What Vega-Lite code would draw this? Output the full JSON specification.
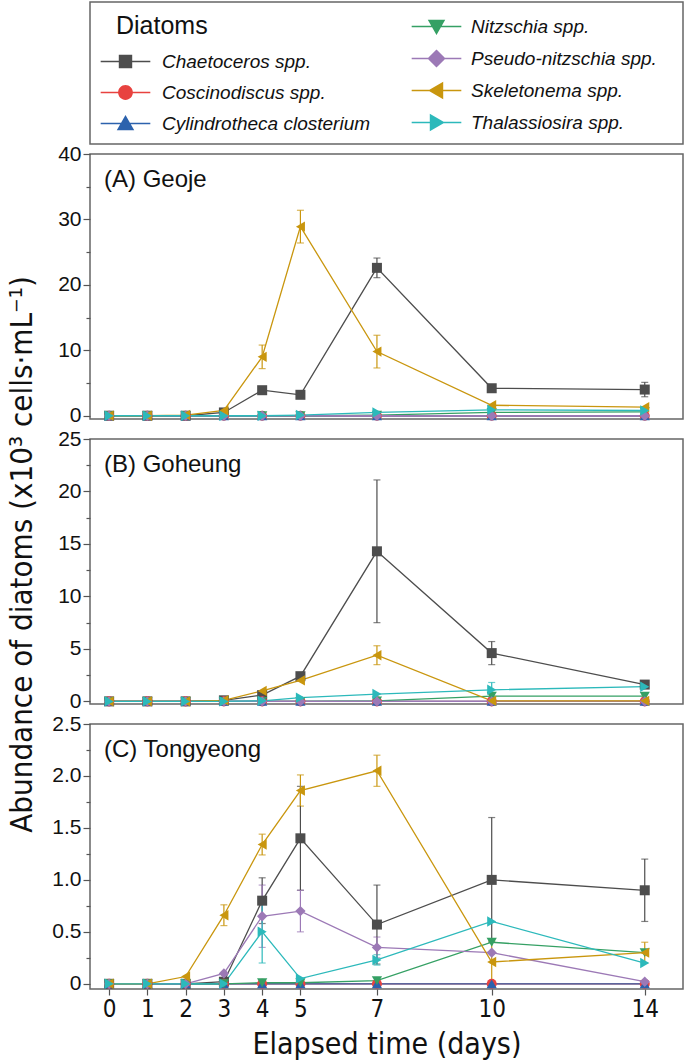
{
  "$schema": "https://vega.github.io/schema/vega-lite/v6.json",
  "padding": {"left": 5, "top": 1, "right": 1, "bottom": 1},
  "background": "white",
  "config": {
    "view": {"stroke": "#666666", "strokeWidth": 1.5},
    "font": "Liberation Sans",
    "axis": {"domain": false, "grid": false, "tickColor": "#555555", "tickWidth": 1.2, "labelColor": "#111111", "titleColor": "#111111", "labelFont": "Liberation Sans", "titleFont": "Liberation Sans Narrow, DejaVu Sans Condensed, Liberation Sans", "titleFontWeight": "normal"},
    "title": {"font": "Liberation Sans", "fontWeight": "normal", "fontSize": 24, "anchor": "start", "color": "#111111", "frame": "group", "baseline": "alphabetic"}
  },
  "datasets": {
    "d": [
      {"site":"A","sp":"Chaetoceros spp.","day":0,"v":0},{"site":"A","sp":"Chaetoceros spp.","day":1,"v":0},{"site":"A","sp":"Chaetoceros spp.","day":2,"v":0},{"site":"A","sp":"Chaetoceros spp.","day":3,"v":0.5},{"site":"A","sp":"Chaetoceros spp.","day":4,"v":3.9},{"site":"A","sp":"Chaetoceros spp.","day":5,"v":3.2},{"site":"A","sp":"Chaetoceros spp.","day":7,"v":22.6,"e":1.5},{"site":"A","sp":"Chaetoceros spp.","day":10,"v":4.2},{"site":"A","sp":"Chaetoceros spp.","day":14,"v":4.0,"e":1.1},
      {"site":"A","sp":"Coscinodiscus spp.","day":0,"v":0},{"site":"A","sp":"Coscinodiscus spp.","day":1,"v":0},{"site":"A","sp":"Coscinodiscus spp.","day":2,"v":0},{"site":"A","sp":"Coscinodiscus spp.","day":3,"v":0},{"site":"A","sp":"Coscinodiscus spp.","day":4,"v":0},{"site":"A","sp":"Coscinodiscus spp.","day":5,"v":0},{"site":"A","sp":"Coscinodiscus spp.","day":7,"v":0},{"site":"A","sp":"Coscinodiscus spp.","day":10,"v":0},{"site":"A","sp":"Coscinodiscus spp.","day":14,"v":0},
      {"site":"A","sp":"Cylindrotheca closterium","day":0,"v":0},{"site":"A","sp":"Cylindrotheca closterium","day":1,"v":0},{"site":"A","sp":"Cylindrotheca closterium","day":2,"v":0},{"site":"A","sp":"Cylindrotheca closterium","day":3,"v":0},{"site":"A","sp":"Cylindrotheca closterium","day":4,"v":0},{"site":"A","sp":"Cylindrotheca closterium","day":5,"v":0},{"site":"A","sp":"Cylindrotheca closterium","day":7,"v":0},{"site":"A","sp":"Cylindrotheca closterium","day":10,"v":0},{"site":"A","sp":"Cylindrotheca closterium","day":14,"v":0},
      {"site":"A","sp":"Nitzschia spp.","day":0,"v":0},{"site":"A","sp":"Nitzschia spp.","day":1,"v":0},{"site":"A","sp":"Nitzschia spp.","day":2,"v":0},{"site":"A","sp":"Nitzschia spp.","day":3,"v":0},{"site":"A","sp":"Nitzschia spp.","day":4,"v":0},{"site":"A","sp":"Nitzschia spp.","day":5,"v":0},{"site":"A","sp":"Nitzschia spp.","day":7,"v":0.1},{"site":"A","sp":"Nitzschia spp.","day":10,"v":0.5},{"site":"A","sp":"Nitzschia spp.","day":14,"v":0.6},
      {"site":"A","sp":"Pseudo-nitzschia spp.","day":0,"v":0},{"site":"A","sp":"Pseudo-nitzschia spp.","day":1,"v":0},{"site":"A","sp":"Pseudo-nitzschia spp.","day":2,"v":0},{"site":"A","sp":"Pseudo-nitzschia spp.","day":3,"v":0},{"site":"A","sp":"Pseudo-nitzschia spp.","day":4,"v":0},{"site":"A","sp":"Pseudo-nitzschia spp.","day":5,"v":0},{"site":"A","sp":"Pseudo-nitzschia spp.","day":7,"v":0},{"site":"A","sp":"Pseudo-nitzschia spp.","day":10,"v":0},{"site":"A","sp":"Pseudo-nitzschia spp.","day":14,"v":0},
      {"site":"A","sp":"Skeletonema spp.","day":0,"v":0},{"site":"A","sp":"Skeletonema spp.","day":1,"v":0},{"site":"A","sp":"Skeletonema spp.","day":2,"v":0.1},{"site":"A","sp":"Skeletonema spp.","day":3,"v":0.8},{"site":"A","sp":"Skeletonema spp.","day":4,"v":9.0,"e":1.8},{"site":"A","sp":"Skeletonema spp.","day":5,"v":28.9,"e":2.5},{"site":"A","sp":"Skeletonema spp.","day":7,"v":9.8,"e":2.5},{"site":"A","sp":"Skeletonema spp.","day":10,"v":1.6},{"site":"A","sp":"Skeletonema spp.","day":14,"v":1.3},
      {"site":"A","sp":"Thalassiosira spp.","day":0,"v":0},{"site":"A","sp":"Thalassiosira spp.","day":1,"v":0},{"site":"A","sp":"Thalassiosira spp.","day":2,"v":0},{"site":"A","sp":"Thalassiosira spp.","day":3,"v":0},{"site":"A","sp":"Thalassiosira spp.","day":4,"v":0},{"site":"A","sp":"Thalassiosira spp.","day":5,"v":0.1},{"site":"A","sp":"Thalassiosira spp.","day":7,"v":0.5},{"site":"A","sp":"Thalassiosira spp.","day":10,"v":0.9},{"site":"A","sp":"Thalassiosira spp.","day":14,"v":0.8},
      {"site":"B","sp":"Chaetoceros spp.","day":0,"v":0},{"site":"B","sp":"Chaetoceros spp.","day":1,"v":0},{"site":"B","sp":"Chaetoceros spp.","day":2,"v":0},{"site":"B","sp":"Chaetoceros spp.","day":3,"v":0.1},{"site":"B","sp":"Chaetoceros spp.","day":4,"v":0.6},{"site":"B","sp":"Chaetoceros spp.","day":5,"v":2.4},{"site":"B","sp":"Chaetoceros spp.","day":7,"v":14.3,"e":6.8},{"site":"B","sp":"Chaetoceros spp.","day":10,"v":4.6,"e":1.1},{"site":"B","sp":"Chaetoceros spp.","day":14,"v":1.6},
      {"site":"B","sp":"Coscinodiscus spp.","day":0,"v":0},{"site":"B","sp":"Coscinodiscus spp.","day":1,"v":0},{"site":"B","sp":"Coscinodiscus spp.","day":2,"v":0},{"site":"B","sp":"Coscinodiscus spp.","day":3,"v":0},{"site":"B","sp":"Coscinodiscus spp.","day":4,"v":0},{"site":"B","sp":"Coscinodiscus spp.","day":5,"v":0},{"site":"B","sp":"Coscinodiscus spp.","day":7,"v":0},{"site":"B","sp":"Coscinodiscus spp.","day":10,"v":0},{"site":"B","sp":"Coscinodiscus spp.","day":14,"v":0},
      {"site":"B","sp":"Cylindrotheca closterium","day":0,"v":0},{"site":"B","sp":"Cylindrotheca closterium","day":1,"v":0},{"site":"B","sp":"Cylindrotheca closterium","day":2,"v":0},{"site":"B","sp":"Cylindrotheca closterium","day":3,"v":0},{"site":"B","sp":"Cylindrotheca closterium","day":4,"v":0},{"site":"B","sp":"Cylindrotheca closterium","day":5,"v":0},{"site":"B","sp":"Cylindrotheca closterium","day":7,"v":0},{"site":"B","sp":"Cylindrotheca closterium","day":10,"v":0},{"site":"B","sp":"Cylindrotheca closterium","day":14,"v":0},
      {"site":"B","sp":"Nitzschia spp.","day":0,"v":0},{"site":"B","sp":"Nitzschia spp.","day":1,"v":0},{"site":"B","sp":"Nitzschia spp.","day":2,"v":0},{"site":"B","sp":"Nitzschia spp.","day":3,"v":0},{"site":"B","sp":"Nitzschia spp.","day":4,"v":0},{"site":"B","sp":"Nitzschia spp.","day":5,"v":0},{"site":"B","sp":"Nitzschia spp.","day":7,"v":0.05},{"site":"B","sp":"Nitzschia spp.","day":10,"v":0.5},{"site":"B","sp":"Nitzschia spp.","day":14,"v":0.5},
      {"site":"B","sp":"Pseudo-nitzschia spp.","day":0,"v":0},{"site":"B","sp":"Pseudo-nitzschia spp.","day":1,"v":0},{"site":"B","sp":"Pseudo-nitzschia spp.","day":2,"v":0},{"site":"B","sp":"Pseudo-nitzschia spp.","day":3,"v":0},{"site":"B","sp":"Pseudo-nitzschia spp.","day":4,"v":0},{"site":"B","sp":"Pseudo-nitzschia spp.","day":5,"v":0},{"site":"B","sp":"Pseudo-nitzschia spp.","day":7,"v":0},{"site":"B","sp":"Pseudo-nitzschia spp.","day":10,"v":0},{"site":"B","sp":"Pseudo-nitzschia spp.","day":14,"v":0},
      {"site":"B","sp":"Skeletonema spp.","day":0,"v":0},{"site":"B","sp":"Skeletonema spp.","day":1,"v":0},{"site":"B","sp":"Skeletonema spp.","day":2,"v":0},{"site":"B","sp":"Skeletonema spp.","day":3,"v":0.1},{"site":"B","sp":"Skeletonema spp.","day":4,"v":1.0},{"site":"B","sp":"Skeletonema spp.","day":5,"v":2.0},{"site":"B","sp":"Skeletonema spp.","day":7,"v":4.4,"e":0.9},{"site":"B","sp":"Skeletonema spp.","day":10,"v":0.05},{"site":"B","sp":"Skeletonema spp.","day":14,"v":0.05},
      {"site":"B","sp":"Thalassiosira spp.","day":0,"v":0},{"site":"B","sp":"Thalassiosira spp.","day":1,"v":0},{"site":"B","sp":"Thalassiosira spp.","day":2,"v":0},{"site":"B","sp":"Thalassiosira spp.","day":3,"v":0},{"site":"B","sp":"Thalassiosira spp.","day":4,"v":0.05},{"site":"B","sp":"Thalassiosira spp.","day":5,"v":0.35},{"site":"B","sp":"Thalassiosira spp.","day":7,"v":0.7},{"site":"B","sp":"Thalassiosira spp.","day":10,"v":1.1,"e":0.7},{"site":"B","sp":"Thalassiosira spp.","day":14,"v":1.4},
      {"site":"C","sp":"Chaetoceros spp.","day":0,"v":0},{"site":"C","sp":"Chaetoceros spp.","day":1,"v":0},{"site":"C","sp":"Chaetoceros spp.","day":2,"v":0},{"site":"C","sp":"Chaetoceros spp.","day":3,"v":0.02},{"site":"C","sp":"Chaetoceros spp.","day":4,"v":0.8,"e":0.22},{"site":"C","sp":"Chaetoceros spp.","day":5,"v":1.4,"e":0.5},{"site":"C","sp":"Chaetoceros spp.","day":7,"v":0.57,"e":0.38},{"site":"C","sp":"Chaetoceros spp.","day":10,"v":1.0,"e":0.6},{"site":"C","sp":"Chaetoceros spp.","day":14,"v":0.9,"e":0.3},
      {"site":"C","sp":"Coscinodiscus spp.","day":0,"v":0},{"site":"C","sp":"Coscinodiscus spp.","day":1,"v":0},{"site":"C","sp":"Coscinodiscus spp.","day":2,"v":0},{"site":"C","sp":"Coscinodiscus spp.","day":3,"v":0},{"site":"C","sp":"Coscinodiscus spp.","day":4,"v":0},{"site":"C","sp":"Coscinodiscus spp.","day":5,"v":0},{"site":"C","sp":"Coscinodiscus spp.","day":7,"v":0},{"site":"C","sp":"Coscinodiscus spp.","day":10,"v":0},{"site":"C","sp":"Coscinodiscus spp.","day":14,"v":0},
      {"site":"C","sp":"Cylindrotheca closterium","day":0,"v":0},{"site":"C","sp":"Cylindrotheca closterium","day":1,"v":0},{"site":"C","sp":"Cylindrotheca closterium","day":2,"v":0},{"site":"C","sp":"Cylindrotheca closterium","day":3,"v":0},{"site":"C","sp":"Cylindrotheca closterium","day":4,"v":0},{"site":"C","sp":"Cylindrotheca closterium","day":5,"v":0},{"site":"C","sp":"Cylindrotheca closterium","day":7,"v":0},{"site":"C","sp":"Cylindrotheca closterium","day":10,"v":0},{"site":"C","sp":"Cylindrotheca closterium","day":14,"v":0},
      {"site":"C","sp":"Nitzschia spp.","day":0,"v":0},{"site":"C","sp":"Nitzschia spp.","day":1,"v":0},{"site":"C","sp":"Nitzschia spp.","day":2,"v":0},{"site":"C","sp":"Nitzschia spp.","day":3,"v":0},{"site":"C","sp":"Nitzschia spp.","day":4,"v":0.01},{"site":"C","sp":"Nitzschia spp.","day":5,"v":0.01},{"site":"C","sp":"Nitzschia spp.","day":7,"v":0.03},{"site":"C","sp":"Nitzschia spp.","day":10,"v":0.4},{"site":"C","sp":"Nitzschia spp.","day":14,"v":0.3},
      {"site":"C","sp":"Pseudo-nitzschia spp.","day":0,"v":0},{"site":"C","sp":"Pseudo-nitzschia spp.","day":1,"v":0},{"site":"C","sp":"Pseudo-nitzschia spp.","day":2,"v":0},{"site":"C","sp":"Pseudo-nitzschia spp.","day":3,"v":0.1},{"site":"C","sp":"Pseudo-nitzschia spp.","day":4,"v":0.65,"e":0.3},{"site":"C","sp":"Pseudo-nitzschia spp.","day":5,"v":0.7,"e":0.2},{"site":"C","sp":"Pseudo-nitzschia spp.","day":7,"v":0.35,"e":0.1},{"site":"C","sp":"Pseudo-nitzschia spp.","day":10,"v":0.3},{"site":"C","sp":"Pseudo-nitzschia spp.","day":14,"v":0.02},
      {"site":"C","sp":"Skeletonema spp.","day":0,"v":0},{"site":"C","sp":"Skeletonema spp.","day":1,"v":0},{"site":"C","sp":"Skeletonema spp.","day":2,"v":0.07},{"site":"C","sp":"Skeletonema spp.","day":3,"v":0.66,"e":0.1},{"site":"C","sp":"Skeletonema spp.","day":4,"v":1.34,"e":0.1},{"site":"C","sp":"Skeletonema spp.","day":5,"v":1.86,"e":0.15},{"site":"C","sp":"Skeletonema spp.","day":7,"v":2.05,"e":0.15},{"site":"C","sp":"Skeletonema spp.","day":10,"v":0.21,"e":0.2},{"site":"C","sp":"Skeletonema spp.","day":14,"v":0.3,"e":0.1},
      {"site":"C","sp":"Thalassiosira spp.","day":0,"v":0},{"site":"C","sp":"Thalassiosira spp.","day":1,"v":0},{"site":"C","sp":"Thalassiosira spp.","day":2,"v":0},{"site":"C","sp":"Thalassiosira spp.","day":3,"v":0},{"site":"C","sp":"Thalassiosira spp.","day":4,"v":0.5,"e":0.3},{"site":"C","sp":"Thalassiosira spp.","day":5,"v":0.05},{"site":"C","sp":"Thalassiosira spp.","day":7,"v":0.23,"e":0.05},{"site":"C","sp":"Thalassiosira spp.","day":10,"v":0.6},{"site":"C","sp":"Thalassiosira spp.","day":14,"v":0.2}
    ]
  },
  "resolve": {"scale": {"x": "independent", "y": "independent", "color": "independent", "shape": "independent", "size": "independent"}},
  "bounds": "flush",
  "spacing": 10,
  "vconcat": [
    {
      "width": 593,
      "height": 142,
      "data": {"name": "d"},
      "transform": [{"filter": "false"}],
      "encoding": {
        "x": {"field": "day", "type": "quantitative", "axis": null, "scale": {"domain": [0, 1]}},
        "y": {"field": "v", "type": "quantitative", "axis": null, "scale": {"domain": [0, 1]}}
      },
      "layer": [
        {
          "mark": {"type": "point", "filled": true, "opacity": 1},
          "encoding": {
            "color": {"field": "sp", "type": "nominal",
              "scale": {"domain": ["Chaetoceros spp.", "Coscinodiscus spp.", "Cylindrotheca closterium"], "range": ["#4d4d4d", "#e8423f", "#2c62ad"]},
              "legend": {"title": "Diatoms", "orient": "none", "legendX": 26, "legendY": 12, "titleFontSize": 25, "titleFont": "Liberation Sans", "titleFontWeight": "normal", "titleColor": "#111111", "titlePadding": 13, "labelFontSize": 19, "labelFontStyle": "italic", "labelFont": "Liberation Sans", "labelColor": "#111111", "symbolSize": 180, "symbolStrokeWidth": 0, "labelOffset": 27, "rowPadding": 11, "padding": 0, "labelLimit": 400}},
            "shape": {"field": "sp", "type": "nominal",
              "scale": {"domain": ["Chaetoceros spp.", "Coscinodiscus spp.", "Cylindrotheca closterium"], "range": [
                "M-3.7,-0.12H3.7V0.12H-3.7ZM-1,-1H1V1H-1Z",
                "M-3.7,-0.12H3.7V0.12H-3.7ZM-1.1,0A1.1,1.1,0,1,1,1.1,0A1.1,1.1,0,1,1,-1.1,0Z",
                "M-3.7,-0.12H3.7V0.12H-3.7ZM0,-1.25L1.3,1H-1.3Z"]},
              "legend": {"title": "Diatoms", "orient": "none", "legendX": 26, "legendY": 12, "titleFontSize": 25, "titleFont": "Liberation Sans", "titleFontWeight": "normal", "titleColor": "#111111", "titlePadding": 13, "labelFontSize": 19, "labelFontStyle": "italic", "labelFont": "Liberation Sans", "labelColor": "#111111", "symbolSize": 180, "symbolStrokeWidth": 0, "labelOffset": 27, "rowPadding": 11, "padding": 0, "labelLimit": 400}}
          }
        },
        {
          "mark": {"type": "point", "filled": true, "opacity": 1},
          "encoding": {
            "color": {"field": "sp", "type": "nominal",
              "scale": {"domain": ["Nitzschia spp.", "Pseudo-nitzschia spp.", "Skeletonema spp.", "Thalassiosira spp."], "range": ["#35a064", "#9c79b6", "#c9960e", "#2cb9bb"]},
              "legend": {"title": null, "orient": "none", "legendX": 337, "legendY": 15, "labelFontSize": 19, "labelFontStyle": "italic", "labelFont": "Liberation Sans", "labelColor": "#111111", "symbolSize": 180, "symbolStrokeWidth": 0, "labelOffset": 25, "rowPadding": 12, "padding": 0, "labelLimit": 400}},
            "shape": {"field": "sp", "type": "nominal",
              "scale": {"domain": ["Nitzschia spp.", "Pseudo-nitzschia spp.", "Skeletonema spp.", "Thalassiosira spp."], "range": [
                "M-3.7,-0.12H3.7V0.12H-3.7ZM-1.3,-1H1.3L0,1.25Z",
                "M-3.7,-0.12H3.7V0.12H-3.7ZM0,-1.35L1.35,0L0,1.35L-1.35,0Z",
                "M-3.7,-0.12H3.7V0.12H-3.7ZM-1.25,0L1,-1.3V1.3Z",
                "M-3.7,-0.12H3.7V0.12H-3.7ZM1.25,0L-1,1.3V-1.3Z"]},
              "legend": {"title": null, "orient": "none", "legendX": 337, "legendY": 15, "labelFontSize": 19, "labelFontStyle": "italic", "labelFont": "Liberation Sans", "labelColor": "#111111", "symbolSize": 180, "symbolStrokeWidth": 0, "labelOffset": 25, "rowPadding": 12, "padding": 0, "labelLimit": 400}}
          }
        }
      ],
      "resolve": {"scale": {"color": "independent", "shape": "independent"}}
    },
    {
      "spacing": 20,
      "bounds": "flush",
      "resolve": {"scale": {"y": "independent"}},
      "vconcat": [
        {
          "width": 593,
          "height": 265,
          "title": {"text": "(A) Geoje", "offset": -49, "dx": 14},
          "data": {"name": "d"},
          "transform": [{"filter": "datum.site == 'A'"}],
          "encoding": {
            "x": {"field": "day", "type": "quantitative", "scale": {"domain": [-0.5, 15], "nice": false, "zero": false}, "axis": null},
            "y": {"field": "v", "type": "quantitative", "scale": {"domain": [-0.5, 40], "nice": false, "zero": false},
              "axis": {"title": "Abundance of diatoms  (x10³ cells·mL⁻¹)", "titleFontSize": 31, "titlePadding": 19, "titleY": 400, "values": [0, 5, 10, 15, 20, 25, 30, 35, 40], "labelExpr": "datum.value % 10 == 0 ? datum.label : ''", "tickSize": {"condition": {"test": "datum.value % 10 == 0", "value": 7}, "value": 4}, "labelFontSize": 21, "labelPadding": 2}},
            "color": {"field": "sp", "type": "nominal", "legend": null,
              "scale": {"domain": ["Chaetoceros spp.", "Coscinodiscus spp.", "Cylindrotheca closterium", "Nitzschia spp.", "Pseudo-nitzschia spp.", "Skeletonema spp.", "Thalassiosira spp."], "range": ["#4d4d4d", "#e8423f", "#2c62ad", "#35a064", "#9c79b6", "#c9960e", "#2cb9bb"]}}
          },
          "layer": [
            {"transform": [{"filter": "datum.e > 0"}], "mark": {"type": "errorbar", "ticks": {"size": 7, "thickness": 1.2}, "thickness": 1.2}, "encoding": {"yError": {"field": "e"}}},
            {"mark": {"type": "line", "strokeWidth": 1.3}},
            {"mark": {"type": "point", "filled": true, "opacity": 1},
              "encoding": {
                "shape": {"field": "sp", "type": "nominal", "legend": null, "scale": {"domain": ["Chaetoceros spp.", "Coscinodiscus spp.", "Cylindrotheca closterium", "Nitzschia spp.", "Pseudo-nitzschia spp.", "Skeletonema spp.", "Thalassiosira spp."], "range": ["square", "circle", "triangle-up", "triangle-down", "diamond", "triangle-left", "triangle-right"]}},
                "size": {"field": "sp", "type": "nominal", "legend": null, "scale": {"domain": ["Chaetoceros spp.", "Coscinodiscus spp.", "Cylindrotheca closterium", "Nitzschia spp.", "Pseudo-nitzschia spp.", "Skeletonema spp.", "Thalassiosira spp."], "range": [100, 110, 150, 150, 130, 150, 150]}}
              }}
          ]
        },
        {
          "width": 593,
          "height": 265,
          "title": {"text": "(B) Goheung", "offset": -49, "dx": 14},
          "data": {"name": "d"},
          "transform": [{"filter": "datum.site == 'B'"}],
          "encoding": {
            "x": {"field": "day", "type": "quantitative", "scale": {"domain": [-0.5, 15], "nice": false, "zero": false}, "axis": null},
            "y": {"field": "v", "type": "quantitative", "scale": {"domain": [-0.25, 25], "nice": false, "zero": false},
              "axis": {"title": null, "values": [0, 2.5, 5, 7.5, 10, 12.5, 15, 17.5, 20, 22.5, 25], "labelExpr": "datum.value % 5 == 0 ? datum.label : ''", "tickSize": {"condition": {"test": "datum.value % 5 == 0", "value": 7}, "value": 4}, "labelFontSize": 21, "labelPadding": 2}},
            "color": {"field": "sp", "type": "nominal", "legend": null,
              "scale": {"domain": ["Chaetoceros spp.", "Coscinodiscus spp.", "Cylindrotheca closterium", "Nitzschia spp.", "Pseudo-nitzschia spp.", "Skeletonema spp.", "Thalassiosira spp."], "range": ["#4d4d4d", "#e8423f", "#2c62ad", "#35a064", "#9c79b6", "#c9960e", "#2cb9bb"]}}
          },
          "layer": [
            {"transform": [{"filter": "datum.e > 0"}], "mark": {"type": "errorbar", "ticks": {"size": 7, "thickness": 1.2}, "thickness": 1.2}, "encoding": {"yError": {"field": "e"}}},
            {"mark": {"type": "line", "strokeWidth": 1.3}},
            {"mark": {"type": "point", "filled": true, "opacity": 1},
              "encoding": {
                "shape": {"field": "sp", "type": "nominal", "legend": null, "scale": {"domain": ["Chaetoceros spp.", "Coscinodiscus spp.", "Cylindrotheca closterium", "Nitzschia spp.", "Pseudo-nitzschia spp.", "Skeletonema spp.", "Thalassiosira spp."], "range": ["square", "circle", "triangle-up", "triangle-down", "diamond", "triangle-left", "triangle-right"]}},
                "size": {"field": "sp", "type": "nominal", "legend": null, "scale": {"domain": ["Chaetoceros spp.", "Coscinodiscus spp.", "Cylindrotheca closterium", "Nitzschia spp.", "Pseudo-nitzschia spp.", "Skeletonema spp.", "Thalassiosira spp."], "range": [100, 110, 150, 150, 130, 150, 150]}}
              }}
          ]
        },
        {
          "width": 593,
          "height": 265,
          "title": {"text": "(C) Tongyeong", "offset": -49, "dx": 14},
          "data": {"name": "d"},
          "transform": [{"filter": "datum.site == 'C'"}],
          "encoding": {
            "x": {"field": "day", "type": "quantitative", "scale": {"domain": [-0.5, 15], "nice": false, "zero": false},
              "axis": {"title": "Elapsed time (days)", "values": [0, 1, 2, 3, 4, 5, 7, 10, 14], "tickSize": 6, "labelFontSize": 24, "labelFont": "Liberation Sans Narrow, DejaVu Sans Condensed, Liberation Sans", "titleFontSize": 30, "labelPadding": 2, "titlePadding": 8}},
            "y": {"field": "v", "type": "quantitative", "scale": {"domain": [-0.05, 2.5], "nice": false, "zero": false},
              "axis": {"title": null, "values": [0, 0.25, 0.5, 0.75, 1, 1.25, 1.5, 1.75, 2, 2.25, 2.5], "labelExpr": "datum.value == 0 ? '0' : (round(datum.value * 100) % 50 == 0 ? format(datum.value, '.1f') : '')", "tickSize": {"condition": {"test": "round(datum.value * 100) % 50 == 0", "value": 7}, "value": 4}, "labelFontSize": 21, "labelPadding": 2}},
            "color": {"field": "sp", "type": "nominal", "legend": null,
              "scale": {"domain": ["Chaetoceros spp.", "Coscinodiscus spp.", "Cylindrotheca closterium", "Nitzschia spp.", "Pseudo-nitzschia spp.", "Skeletonema spp.", "Thalassiosira spp."], "range": ["#4d4d4d", "#e8423f", "#2c62ad", "#35a064", "#9c79b6", "#c9960e", "#2cb9bb"]}}
          },
          "layer": [
            {"transform": [{"filter": "datum.e > 0"}], "mark": {"type": "errorbar", "ticks": {"size": 7, "thickness": 1.2}, "thickness": 1.2}, "encoding": {"yError": {"field": "e"}}},
            {"mark": {"type": "line", "strokeWidth": 1.3}},
            {"mark": {"type": "point", "filled": true, "opacity": 1},
              "encoding": {
                "shape": {"field": "sp", "type": "nominal", "legend": null, "scale": {"domain": ["Chaetoceros spp.", "Coscinodiscus spp.", "Cylindrotheca closterium", "Nitzschia spp.", "Pseudo-nitzschia spp.", "Skeletonema spp.", "Thalassiosira spp."], "range": ["square", "circle", "triangle-up", "triangle-down", "diamond", "triangle-left", "triangle-right"]}},
                "size": {"field": "sp", "type": "nominal", "legend": null, "scale": {"domain": ["Chaetoceros spp.", "Coscinodiscus spp.", "Cylindrotheca closterium", "Nitzschia spp.", "Pseudo-nitzschia spp.", "Skeletonema spp.", "Thalassiosira spp."], "range": [100, 110, 150, 150, 130, 150, 150]}}
              }}
          ]
        }
      ]
    }
  ]
}
